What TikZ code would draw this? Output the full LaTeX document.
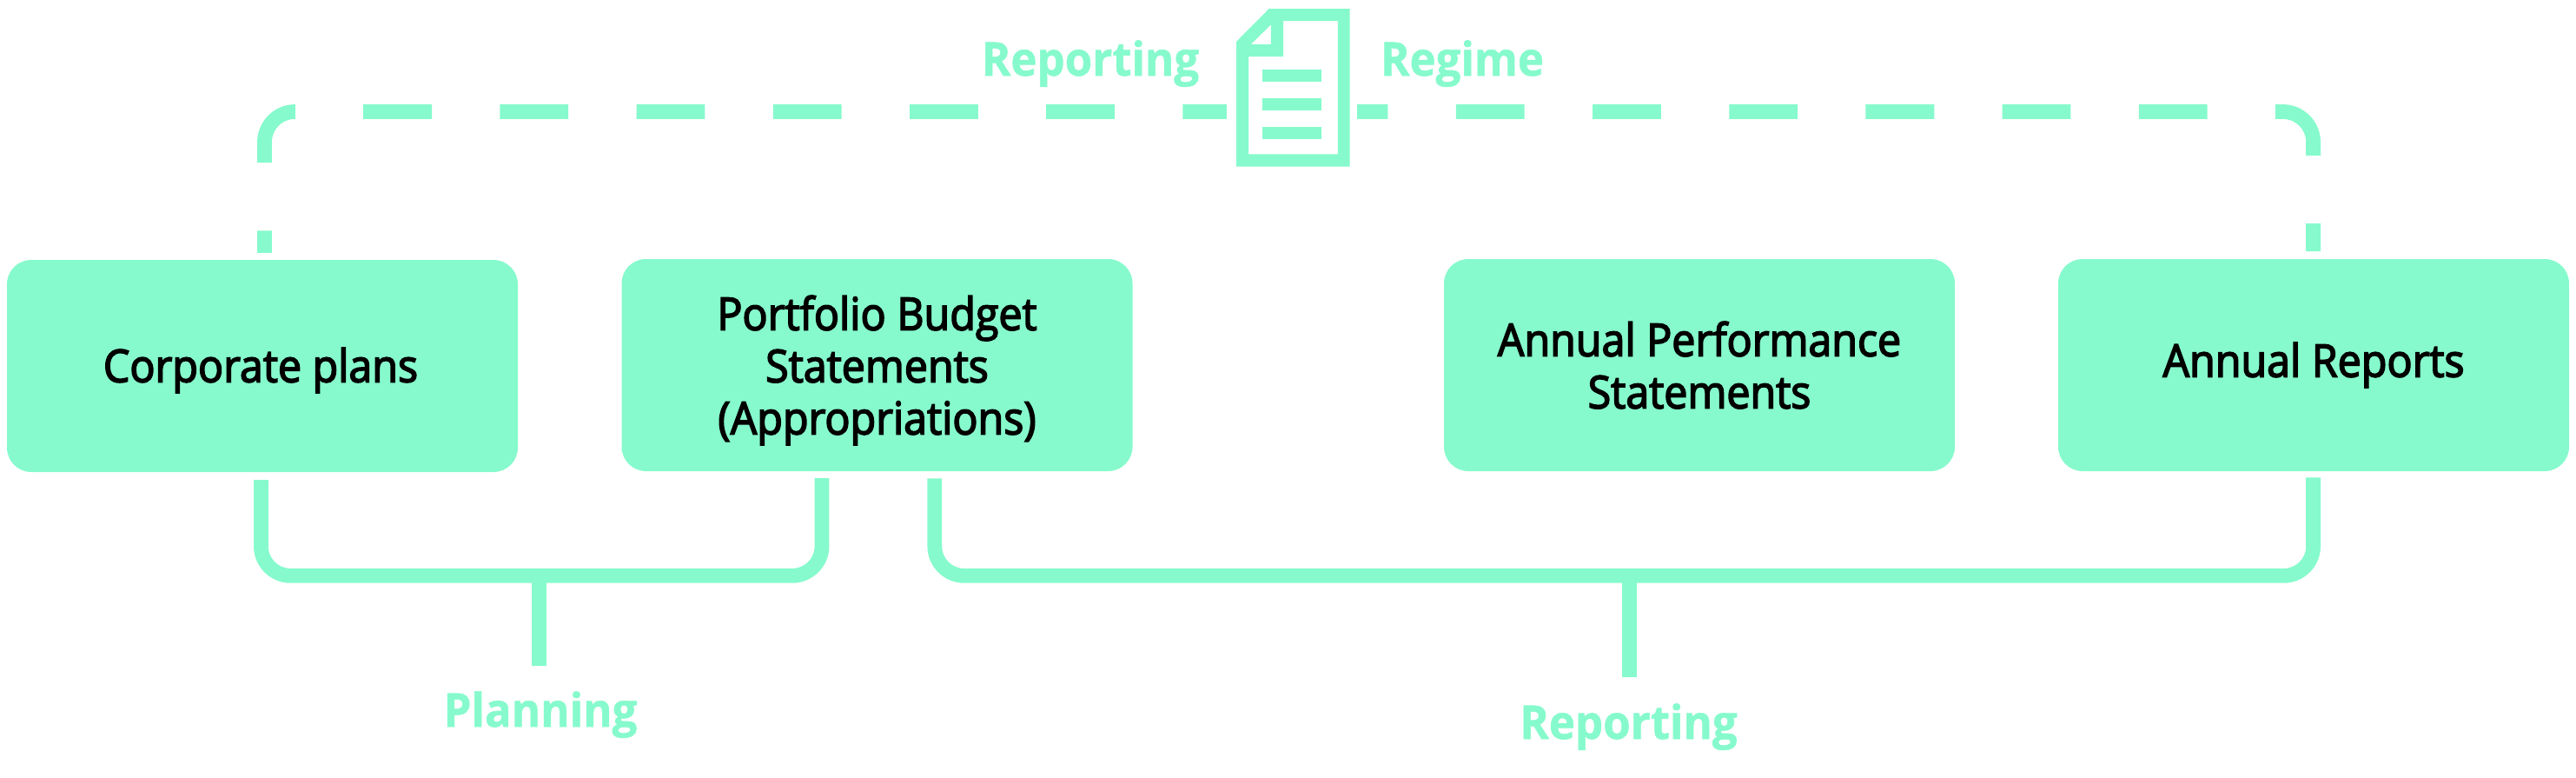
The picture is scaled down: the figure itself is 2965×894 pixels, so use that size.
\documentclass[tikz,border=0pt]{standalone}
\usepackage{fontspec}
\setmainfont{Open Sans}
\newfontfamily\boxfont{Open Sans}[FakeBold=3,FakeStretch=0.93]
\newfontfamily\greenfont{Open Sans Bold}[FakeBold=1,FakeStretch=0.95]
\usepackage{tikz}
\usetikzlibrary{positioning, calc}
\definecolor{mint}{HTML}{86FACC}
\tikzset{
  regimebox/.style = {rectangle, fill=mint, rounded corners=14pt, minimum width=294pt, minimum height=122pt, inner sep=0pt},
  boxtext/.style = {inner sep=0pt, align=center, text=black, font=\boxfont\fontsize{26}{30}\selectfont},
  greenlabel/.style = {text=mint, inner sep=0pt, anchor=base, font=\greenfont\fontsize{26.8}{31}\selectfont},
  bracket/.style = {draw=mint, line width=8.4pt, rounded corners=17pt},
  stem/.style = {draw=mint, line width=8.4pt},
  regime/.style = {bracket, rounded corners=17.5pt, dash pattern=on 39.4pt off 39.2pt, dash phase=26.7pt}
}
\begin{document}
\begin{tikzpicture}[x=0.5pt,y=-0.5pt]
  \useasboundingbox (0,0) rectangle (2965,894);
  % the four boxes
  \node [regimebox] (corporate) at (302,421) {};
  \node [regimebox] (budget) at (1009.5,420) {};
  \node [regimebox] (performance) at (1956,420) {};
  \node [regimebox] (reports) at (2663,420) {};
  \node [boxtext] (corporatetext) at ([xshift=-1pt,yshift=-2.5pt]corporate) {Corporate plans};
  \node [boxtext] (budgettext) at ([yshift=-3pt]budget) {Portfolio Budget\\Statements\\(Appropriations)};
  \node [boxtext] (performancetext) at (performance) {Annual Performance\\Statements};
  \node [boxtext] (reportstext) at (reports) {Annual Reports};
  % planning
  \coordinate (planbar) at (620.6,662.3);
  \coordinate (planend) at (620.6,766);
  \node [greenlabel] (planning) at (622,836) {Planning};
  \draw [bracket] ([xshift=-0.8pt,yshift=-4.3pt]corporate.south) |- (planbar) -| ([xshift=-31.75pt,yshift=-3.8pt]budget.south);
  \draw [stem] (planbar) -- (planend);
  % reporting
  \coordinate (repbar) at (1875.7,662.3);
  \coordinate (repend) at (1875.7,779);
  \node [greenlabel] (reporting) at (1874.5,850) {Reporting};
  \draw [bracket] ([xshift=33.15pt,yshift=-4pt]budget.south) |- (repbar) -| ([xshift=-0.2pt,yshift=-3.5pt]reports.south);
  \draw [stem] (repbar) -- (repend);
  % regime
  \coordinate (regimeleft) at (304.5,128.5);
  \coordinate (regimeright) at (2662.6,128.5);
  \draw [regime] ([xshift=1.2pt,yshift=3.9pt]corporate.north) -- (regimeleft) -- (regimeright) -- ([xshift=-0.2pt,yshift=4.2pt]reports.north);
  % document icon
  \fill [white] (1412,0) rectangle (1562,200);
  \fill [mint,even odd rule] (1423,48) -- (1460.7,10) -- (1553.6,10) -- (1553.6,191.7) -- (1423,191.7) -- cycle
    (1437.2,65) -- (1477,65) -- (1477,24) -- (1539.8,24) -- (1539.8,177.3) -- (1437.2,177.3) -- cycle
    (1439.8,51) -- (1462.8,28.3) -- (1462.8,51) -- cycle;
  \foreach \liney in {80,113.3,145.7}
    \fill [mint] (1453,\liney) rectangle (1521.4,\liney+14);
  \node [greenlabel] (reportinghead) at (1255,87) {Reporting};
  \node [greenlabel] (regimehead) at (1683,87) {Regime};
\end{tikzpicture}
\end{document}
